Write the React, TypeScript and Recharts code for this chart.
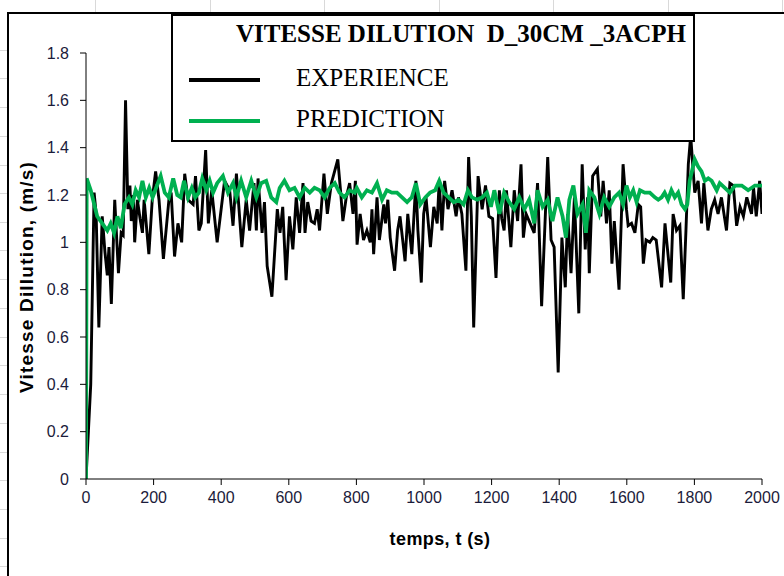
import React from "react";
import { LineChart, Line, XAxis, YAxis } from "recharts";

// ---- data ----
const experienceT = [0, 14, 24, 30, 38, 48, 56, 63, 68, 75, 85, 96, 104, 110, 117, 124, 130, 134, 140, 144, 152, 160, 167, 172, 186, 196, 206, 216, 229, 246, 252, 262, 272, 283, 292, 302, 317, 324, 334, 341, 354, 362, 372, 388,
  410, 425, 435, 445, 461, 474, 484, 497, 504, 509, 521, 528, 536, 550, 566, 574, 582, 592, 602, 612, 622, 632, 642, 648, 656, 666, 676, 684, 691, 704, 714, 726, 745, 753, 760, 770, 780, 790, 797,
  802, 811, 821, 831, 841, 846, 851, 861, 868, 881, 886, 893, 900, 913, 922, 929, 944, 952, 964, 976, 982, 992, 999, 1006, 1019, 1029, 1039, 1045, 1053, 1061, 1071, 1083, 1095, 1102, 1112, 1124, 1132, 1140, 1147, 1160, 1172, 1182, 1192,
  1203, 1213, 1223, 1230, 1237, 1244, 1257, 1267, 1277, 1287, 1294, 1302, 1326, 1336, 1348, 1366, 1376, 1385, 1397, 1408, 1418, 1425, 1435, 1445, 1458, 1468, 1477, 1484, 1489, 1499, 1513, 1523, 1530, 1540, 1548, 1556, 1563, 1577, 1589,
  1599, 1604, 1614, 1624, 1634, 1641, 1649, 1657, 1668, 1677, 1687, 1703, 1713, 1730, 1737, 1747, 1757, 1767, 1775, 1782, 1789, 1801, 1811, 1821, 1828, 1840, 1850, 1860, 1870, 1880, 1895, 1905, 1915, 1925, 1935, 1945, 1955, 1969, 1975, 1983, 1993, 2000];
const experienceV = [0, 0.40, 1.21, 1.12, 0.64, 1.11, 0.96, 0.86, 0.98, 0.74, 1.18, 0.87, 1.04, 1.03, 1.60, 1.14, 1.24, 1.09, 1.20, 1.00, 1.18, 1.10, 1.04, 1.18, 0.95, 1.18, 1.30, 1.18, 0.93, 1.19, 1.21, 0.94, 1.08, 1.00, 1.29, 1.18, 1.16, 1.28, 1.05, 1.08, 1.39, 1.08, 1.22, 1.00,
  1.26, 1.22, 1.07, 1.29, 0.98, 1.18, 1.05, 1.25, 1.05, 1.27, 1.04, 1.17, 0.90, 0.77, 1.14, 1.04, 1.15, 0.84, 1.11, 0.97, 1.19, 1.04, 1.25, 1.04, 1.17, 1.09, 1.08, 1.14, 1.05, 1.29, 1.12, 1.25, 1.35, 1.22, 1.09, 1.19, 1.25, 1.12, 1.26,
  0.99, 1.12, 1.01, 1.05, 1.00, 1.14, 0.95, 1.19, 1.01, 1.16, 1.08, 1.18, 1.02, 0.88, 1.05, 1.11, 0.92, 1.12, 0.95, 1.26, 1.05, 0.83, 1.12, 1.19, 0.98, 1.15, 1.08, 1.26, 1.05, 1.26, 1.14, 1.22, 1.11, 1.19, 1.12, 0.88, 1.36, 1.11, 0.64, 1.28, 1.14, 1.24, 1.11,
  1.10, 0.85, 1.22, 1.10, 1.05, 1.22, 0.98, 1.22, 1.09, 1.33, 1.02, 1.12, 1.04, 1.25, 0.73, 1.36, 1.01, 0.98, 0.45, 1.02, 0.81, 1.12, 0.87, 1.19, 0.70, 1.33, 0.97, 1.19, 0.87, 1.28, 1.31, 1.11, 1.26, 1.08, 1.22, 0.91, 1.09, 0.80, 1.33,
  1.14, 1.07, 1.08, 1.04, 1.16, 1.15, 0.91, 1.01, 1.00, 1.02, 1.01, 0.81, 1.08, 0.83, 1.12, 1.05, 1.07, 0.76, 1.05, 1.33, 1.45, 1.21, 1.26, 1.08, 1.25, 1.05, 1.14, 1.18, 1.12, 1.19, 1.05, 1.25, 1.24, 1.07, 1.15, 1.11, 1.19, 1.12, 1.23, 1.11, 1.26, 1.12];

const predictionT = [0, 2, 14, 33, 48, 63, 73, 83, 93, 103, 114, 127, 137, 147, 157, 167, 177, 187, 197, 210, 221, 233, 245, 258, 270, 280, 290, 302, 313, 323, 334, 344, 356, 366, 376, 388,
  405, 420, 435, 445, 459, 474, 489, 504, 518, 533, 548, 563, 573, 587, 602, 617, 632, 647, 662, 676, 691, 706, 721, 736, 750, 765, 780,
  795, 801, 816, 831, 846, 861, 876, 890, 905, 920, 935, 950, 964, 976, 989, 1004, 1018, 1033, 1045, 1058, 1073, 1088, 1102, 1117, 1130, 1142, 1157, 1172,
  1186, 1198, 1208, 1223, 1237, 1252, 1267, 1282, 1297, 1311, 1326, 1336, 1351, 1366, 1380, 1395, 1410, 1420, 1430, 1442, 1454, 1469, 1479, 1489, 1504, 1519, 1533, 1548, 1563, 1577,
  1589, 1599, 1609, 1619, 1629, 1639, 1653, 1668, 1683, 1693, 1703, 1712, 1722, 1732, 1742, 1752, 1762, 1772, 1779, 1786, 1801, 1811, 1821, 1831, 1841, 1851, 1866, 1875, 1890, 1905, 1920, 1940, 1959, 1979, 2000];
const predictionV = [0, 1.27, 1.22, 1.11, 1.08, 1.05, 1.08, 1.04, 1.11, 1.06, 1.16, 1.19, 1.16, 1.22, 1.19, 1.26, 1.19, 1.23, 1.19, 1.24, 1.28, 1.21, 1.19, 1.27, 1.20, 1.19, 1.26, 1.19, 1.23, 1.19, 1.21, 1.27, 1.22, 1.26, 1.21, 1.25,
  1.28, 1.21, 1.25, 1.19, 1.26, 1.19, 1.26, 1.19, 1.25, 1.26, 1.19, 1.17, 1.23, 1.26, 1.22, 1.23, 1.19, 1.23, 1.21, 1.23, 1.22, 1.19, 1.23, 1.25, 1.21, 1.19, 1.22,
  1.21, 1.23, 1.19, 1.22, 1.21, 1.25, 1.18, 1.22, 1.21, 1.21, 1.19, 1.17, 1.19, 1.25, 1.16, 1.19, 1.21, 1.22, 1.26, 1.21, 1.19, 1.17, 1.18, 1.16, 1.22, 1.19, 1.18, 1.19,
  1.21, 1.15, 1.22, 1.12, 1.21, 1.17, 1.14, 1.19, 1.14, 1.18, 1.08, 1.22, 1.15, 1.18, 1.09, 1.19, 1.11, 1.02, 1.18, 1.24, 1.12, 1.16, 1.04, 1.22, 1.19, 1.12, 1.19, 1.15, 1.19, 1.21,
  1.16, 1.24, 1.19, 1.22, 1.17, 1.22, 1.21, 1.21, 1.19, 1.18, 1.19, 1.21, 1.18, 1.22, 1.19, 1.21, 1.16, 1.14, 1.16, 1.26, 1.35, 1.32, 1.30, 1.26, 1.27, 1.26, 1.22, 1.25, 1.23, 1.21, 1.24, 1.24, 1.22, 1.24, 1.24];

const xTicks = [0, 200, 400, 600, 800, 1000, 1200, 1400, 1600, 1800, 2000];
const yTicks = [0, 0.2, 0.4, 0.6, 0.8, 1, 1.2, 1.4, 1.6, 1.8];

const titleText = "VITESSE DILUTION  D_30CM _3ACPH";
const seriesNames = ["EXPERIENCE", "PREDICTION"];
const xTitle = "temps, t (s)";
const yTitle = "Vitesse Dillution, (m/s)";

const sheetColumnLines = [95, 210, 324, 439, 553, 668, 782];
const sheetRowLines = [50, 78, 107, 136, 165, 193, 222, 250, 279, 308, 337, 365, 394, 423, 452, 480, 509, 538, 566];

const experienceData = experienceT.map((t, i) => ({ t, v: experienceV[i] }));
const predictionData = predictionT.map((t, i) => ({ t, v: predictionV[i] }));

const tickColor = "#1b1b3a";
const sans = "'Liberation Sans', Arial, sans-serif";
const serif = "'Liberation Serif', 'Times New Roman', serif";

export default function App() {
  return (
    <div style={{ position: "fixed", left: 0, top: 0, width: 784, height: 576, background: "#fff", overflow: "hidden", fontFamily: sans }}>
      {sheetColumnLines.map((x) => (
        <div key={"c" + x} style={{ position: "absolute", left: x, top: 0, width: 1, height: 12, background: "#d9d9d9" }} />
      ))}
      {sheetRowLines.map((y) => (
        <div key={"r" + y} style={{ position: "absolute", left: 0, top: y, width: 8, height: 1, background: "#d9d9d9" }} />
      ))}
      <div style={{ position: "absolute", left: 7, top: 12, width: 900, height: 700, borderLeft: "2px solid #000", borderTop: "2px solid #000", background: "#fff" }} />
      <div style={{ position: "absolute", left: 0, top: 0 }}>
        <LineChart width={784} height={576} margin={{ top: 53, right: 22, bottom: 67, left: 26 }}>
          <XAxis
            type="number"
            dataKey="t"
            domain={[0, 2000]}
            ticks={xTicks}
            allowDataOverflow
            tickSize={6}
            tickMargin={7}
            height={30}
            stroke="#000"
            tick={{ fill: tickColor, fontSize: 16, fontFamily: sans }}
          />
          <YAxis
            type="number"
            dataKey="v"
            domain={[0, 1.8]}
            ticks={yTicks}
            allowDataOverflow
            tickSize={6}
            tickMargin={11}
            width={60}
            stroke="#000"
            tick={{ fill: tickColor, fontSize: 16, fontFamily: sans }}
          />
          <Line data={experienceData} dataKey="v" type="linear" stroke="#000" strokeWidth={2.9} dot={false} isAnimationActive={false} />
          <Line data={predictionData} dataKey="v" type="linear" stroke="#00b050" strokeWidth={3.8} dot={false} isAnimationActive={false} />
        </LineChart>
      </div>
      {/* axis titles */}
      <div style={{ position: "absolute", left: 340, top: 529, width: 200, textAlign: "center", fontWeight: "bold", fontSize: 18, letterSpacing: 0.4, color: "#000" }}>{xTitle}</div>
      <div style={{ position: "absolute", left: 27, top: 277, width: 0, height: 0 }}>
        <div style={{ position: "absolute", left: -160, top: -11, width: 320, textAlign: "center", fontWeight: "bold", fontSize: 19, letterSpacing: 1.2, color: "#000", transform: "rotate(-90deg)", whiteSpace: "nowrap" }}>{yTitle}</div>
      </div>
      {/* legend box */}
      <div style={{ position: "absolute", left: 171, top: 14, width: 520, height: 124, border: "2px solid #000", background: "#fff", fontFamily: serif, color: "#000" }}>
        <div style={{ position: "absolute", left: 58, top: 4, width: 460, textAlign: "center", fontWeight: "bold", fontSize: 25, whiteSpace: "pre" }}>{titleText}</div>
        <div style={{ position: "absolute", left: 16, top: 62, width: 71, height: 4, background: "#000" }} />
        <div style={{ position: "absolute", left: 123, top: 48, fontSize: 25 }}>{seriesNames[0]}</div>
        <div style={{ position: "absolute", left: 16, top: 103, width: 71, height: 4, background: "#00b050" }} />
        <div style={{ position: "absolute", left: 123, top: 89, fontSize: 25 }}>{seriesNames[1]}</div>
      </div>
    </div>
  );
}
